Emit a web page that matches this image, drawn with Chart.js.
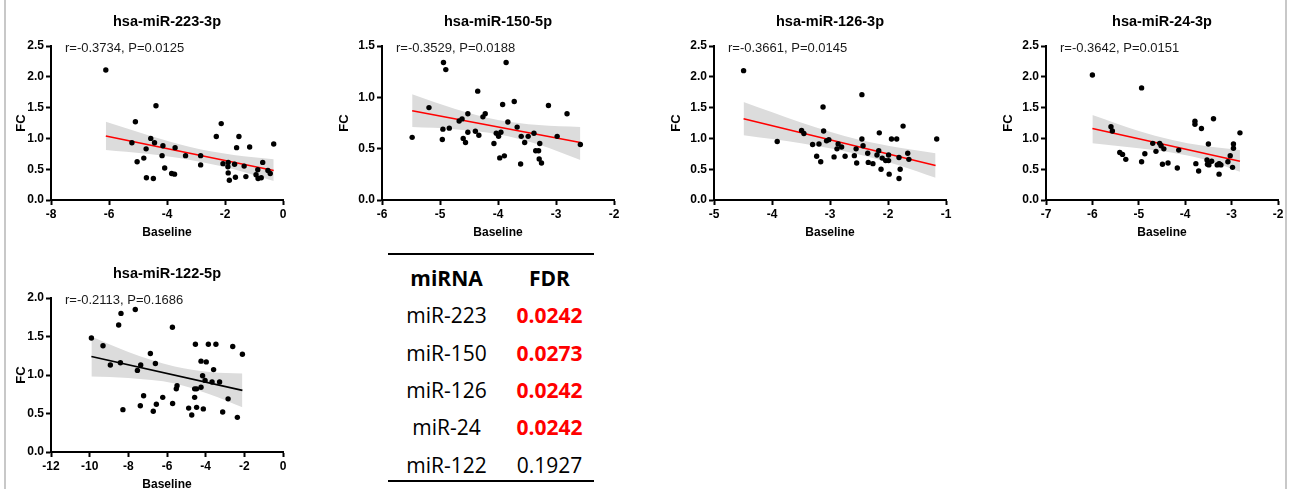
<!DOCTYPE html>
<html>
<head>
<meta charset="utf-8">
<script src="https://cdn.jsdelivr.net/npm/chart.js@4.4.0/dist/chart.umd.min.js"></script>
<style>
html, body { margin: 0; padding: 0; background: #fff; overflow: hidden; }
body { width: 1289px; height: 489px; position: relative; }
canvas { position: absolute; }
.edge { position: absolute; top: 0; height: 489px; width: 2px; background: #c8c8c8; z-index: 5; }
.rule { position: absolute; left: 388px; width: 206px; height: 2px; background: #000; }
.trow { position: absolute; left: 388px; width: 206px; height: 37px; line-height: 37px;
        font-family: "Open Sans", "Noto Sans", sans-serif; font-size: 21px; color: #000; white-space: nowrap; }
.trow span { display: inline-block; text-align: center; }
.c1 { width: 117px; }
.c2 { width: 89px; }
.bold { font-weight: bold; }
.sig { color: #ff0000; font-weight: bold; }
</style>
</head>
<body>
<div class="edge" style="left:4px"></div>
<div class="edge" style="left:1285px"></div>
<div id="table"></div>
<script>
// panel labels
const panelTitles = ["hsa-miR-223-3p", "hsa-miR-150-5p", "hsa-miR-126-3p", "hsa-miR-24-3p", "hsa-miR-122-5p"];
const panelStats = ["r=-0.3734, P=0.0125", "r=-0.3529, P=0.0188", "r=-0.3661, P=0.0145", "r=-0.3642, P=0.0151", "r=-0.2113, P=0.1686"];

// axis ranges: [min, max, step]
const xRanges = [[-8, 0, 2], [-6, -2, 1], [-5, -1, 1], [-7, -2, 1], [-12, 0, 2]];
const yRanges = [[0, 2.5, 0.5], [0, 1.5, 0.5], [0, 2.5, 0.5], [0, 2.5, 0.5], [0, 2.0, 0.5]];

// miR-223
const x223 = [-6.11,-5.09,-4.38,-5.21,-4.56,-4.43,-4.72,-4.14,-3.72,-5.03,-4.80,-4.17,-4.08,-4.71,-4.47,-3.84,-3.74,-3.36,-2.84,-2.84,-2.30,-2.13,-2.07,-1.89,-1.90,-1.89,-1.85,-1.67,-1.64,-1.60,-1.52,-1.34,-1.28,-1.15,-0.93,-0.87,-0.86,-0.75,-0.70,-0.52,-0.44,-0.32];
const y223 = [2.11,1.27,1.53,0.93,1.00,0.93,0.83,0.88,0.85,0.62,0.68,0.72,0.52,0.36,0.35,0.43,0.42,0.72,0.72,0.57,1.03,1.24,0.59,0.61,0.54,0.44,0.32,0.58,0.37,0.85,1.03,0.55,0.38,0.86,0.41,0.49,0.35,0.36,0.61,0.48,0.43,0.91];
const fitX223 = [-6.11, -0.32];
const fitY223 = [1.04, 0.48];
const bandX223 = [-6.11, -4.7, -3.2, -1.7, -0.32];
const bandHi223 = [1.27, 1.06, 0.86, 0.73, 0.66];
const bandLo223 = [0.81, 0.75, 0.65, 0.50, 0.31];

// miR-150
const x150 = [-5.48,-5.19,-4.96,-4.95,-4.94,-4.90,-4.84,-4.67,-4.62,-4.60,-4.56,-4.52,-4.52,-4.39,-4.35,-4.33,-4.26,-4.22,-4.07,-4.03,-3.99,-3.97,-3.95,-3.92,-3.89,-3.86,-3.83,-3.72,-3.67,-3.60,-3.61,-3.54,-3.48,-3.38,-3.35,-3.30,-3.29,-3.28,-3.25,-3.13,-2.98,-2.81,-2.58];
const y150 = [0.61,0.90,0.59,0.69,1.34,1.27,0.70,0.77,0.79,0.60,0.56,0.84,0.66,0.67,1.06,0.63,0.81,0.84,0.55,0.65,0.62,0.41,0.66,0.93,0.43,1.34,0.76,0.96,0.71,0.62,0.35,0.56,0.62,0.65,0.48,0.48,0.40,0.55,0.36,0.92,0.62,0.84,0.54];
const fitX150 = [-5.48, -2.58];
const fitY150 = [0.87, 0.56];
const bandX150 = [-5.48, -4.75, -4.0, -3.3, -2.58];
const bandHi150 = [1.03, 0.89, 0.78, 0.73, 0.71];
const bandLo150 = [0.71, 0.69, 0.64, 0.54, 0.39];

// miR-126
const x126 = [-4.49,-3.91,-3.49,-3.45,-3.30,-3.23,-3.19,-3.16,-3.12,-3.11,-3.06,-3.02,-2.93,-2.88,-2.86,-2.80,-2.74,-2.58,-2.55,-2.54,-2.45,-2.43,-2.45,-2.35,-2.34,-2.26,-2.19,-2.16,-2.15,-2.12,-2.10,-2.04,-1.99,-1.99,-1.98,-1.94,-1.85,-1.81,-1.81,-1.79,-1.74,-1.66,-1.64,-1.16];
const y126 = [2.10,0.95,1.13,1.08,0.90,0.71,0.91,0.62,1.51,1.12,0.96,0.98,0.70,0.83,0.91,0.86,0.71,0.72,0.83,0.60,1.71,0.88,0.99,0.76,0.61,0.59,0.73,0.80,1.09,0.50,0.68,0.64,0.64,0.73,0.42,0.99,0.99,0.69,0.35,0.50,1.20,0.76,0.66,0.99];
const fitX126 = [-4.49, -1.18];
const fitY126 = [1.32, 0.56];
const bandX126 = [-4.49, -3.5, -2.5, -1.8, -1.18];
const bandHi126 = [1.59, 1.26, 0.98, 0.85, 0.76];
const bandLo126 = [1.05, 0.92, 0.74, 0.56, 0.36];

// miR-24
const x24 = [-6.00,-5.60,-5.57,-5.41,-5.35,-5.28,-4.94,-4.87,-4.94,-4.70,-4.55,-4.52,-4.46,-4.63,-4.49,-4.37,-4.17,-4.14,-3.79,-3.79,-3.65,-3.39,-3.50,-3.77,-3.71,-3.53,-3.43,-3.52,-3.49,-3.27,-3.26,-3.31,-3.23,-3.27,-3.08,-3.03,-2.98,-2.96,-2.96,-2.82];
const y24 = [2.03,1.19,1.12,0.77,0.74,0.66,0.62,0.75,1.82,0.92,0.92,0.88,0.83,0.79,0.58,0.60,0.52,0.81,1.28,1.23,1.16,1.32,0.91,0.59,0.47,0.65,0.63,0.58,0.57,0.59,0.58,0.57,0.57,0.42,0.62,0.72,0.53,0.91,0.84,1.09];
const fitX24 = [-6.0, -2.82];
const fitY24 = [1.16, 0.63];
const bandX24 = [-6.0, -5.0, -4.3, -3.6, -2.82];
const bandHi24 = [1.38, 1.12, 0.98, 0.88, 0.81];
const bandLo24 = [0.92, 0.84, 0.77, 0.66, 0.46];

// miR-122
const x122 = [-9.91,-9.31,-8.93,-8.50,-8.41,-8.38,-8.28,-7.64,-7.53,-7.36,-7.38,-7.21,-6.86,-6.71,-6.60,-6.55,-6.22,-5.72,-5.71,-5.52,-5.48,-4.88,-4.72,-4.57,-4.57,-4.53,-4.47,-4.47,-4.24,-4.24,-4.16,-4.12,-4.03,-3.97,-3.86,-3.67,-3.59,-3.47,-3.28,-3.12,-2.84,-2.60,-2.36,-2.10];
const y122 = [1.48,1.38,1.13,1.65,1.16,1.80,0.55,1.85,1.06,1.13,0.60,0.73,1.28,0.53,1.15,0.62,0.71,1.62,0.63,0.82,0.86,0.57,0.48,0.82,0.71,1.40,0.82,0.58,1.18,0.84,0.99,0.56,0.93,1.17,1.40,0.91,1.07,1.40,0.91,0.52,0.69,1.37,0.45,1.27];
const fitX122 = [-9.91, -2.10];
const fitY122 = [1.24, 0.80];
const bandX122 = [-9.91, -8.0, -5.6, -3.8, -2.10];
const bandHi122 = [1.50, 1.30, 1.11, 1.04, 1.02];
const bandLo122 = [0.98, 0.96, 0.89, 0.75, 0.58];

// FDR table
const tableHead = ["miRNA", "FDR"];
const tableMirna = ["miR-223", "miR-150", "miR-126", "miR-24", "miR-122"];
const tableFdr = ["0.0242", "0.0273", "0.0242", "0.0242", "0.1927"];
const tableSig = [true, true, true, true, false];

const xsList = [x223, x150, x126, x24, x122];
const ysList = [y223, y150, y126, y24, y122];
const fitXList = [fitX223, fitX150, fitX126, fitX24, fitX122];
const fitYList = [fitY223, fitY150, fitY126, fitY24, fitY122];
const bandXList = [bandX223, bandX150, bandX126, bandX24, bandX122];
const bandHiList = [bandHi223, bandHi150, bandHi126, bandHi24, bandHi122];
const bandLoList = [bandLo223, bandLo150, bandLo126, bandLo24, bandLo122];

// layout / style
const canvasPos = [[0, 0], [331, 0], [663, 0], [995, 0], [0, 252]];
const fcPad = [14, 5.7, 5.7, 5.7, 14];
const fitColors = ["#ff0000", "#ff0000", "#ff0000", "#ff0000", "#000000"];

const FONT = '"Liberation Sans", Arial, Helvetica, sans-serif';
Chart.defaults.font.family = FONT;
Chart.defaults.color = "#000";

function zip(xs, ys) {
  return xs.map((x, i) => ({ x: x, y: ys[i] }));
}

const panelText = {
  id: "panelText",
  afterDraw(chart, args, opts) {
    const ctx = chart.ctx;
    const a = chart.chartArea;
    ctx.save();
    ctx.fillStyle = "#000";
    ctx.textBaseline = "middle";
    ctx.textAlign = "center";
    ctx.font = "bold 14.5px " + FONT;
    ctx.fillText(opts.title, (a.left + a.right) / 2, a.top - 24);
    ctx.textAlign = "left";
    ctx.font = "13px " + FONT;
    ctx.fillStyle = "#1a1a1a";
    ctx.fillText(opts.stat, a.left + 14, a.top + 2);
    ctx.restore();
  }
};

for (let i = 0; i < 5; i++) {
  const cv = document.createElement("canvas");
  cv.width = 301;
  cv.height = 240;
  cv.style.left = canvasPos[i][0] + "px";
  cv.style.top = canvasPos[i][1] + "px";
  document.body.appendChild(cv);

  new Chart(cv.getContext("2d"), {
    type: "scatter",
    data: {
      datasets: [
        {
          type: "line",
          data: zip(bandXList[i], bandLoList[i]),
          borderColor: "rgba(0,0,0,0)",
          borderWidth: 0,
          pointRadius: 0,
          fill: false,
          cubicInterpolationMode: "monotone",
          order: 3
        },
        {
          type: "line",
          data: zip(bandXList[i], bandHiList[i]),
          borderColor: "rgba(0,0,0,0)",
          borderWidth: 0,
          pointRadius: 0,
          fill: "-1",
          backgroundColor: "#dcdcdc",
          cubicInterpolationMode: "monotone",
          order: 3
        },
        {
          type: "line",
          data: zip(fitXList[i], fitYList[i]),
          borderColor: fitColors[i],
          borderWidth: 1.6,
          pointRadius: 0,
          fill: false,
          order: 2
        },
        {
          type: "scatter",
          data: zip(xsList[i], ysList[i]),
          backgroundColor: "#000",
          borderWidth: 0,
          pointRadius: 2.7,
          order: 1
        }
      ]
    },
    options: {
      responsive: false,
      animation: false,
      layout: { padding: { left: 0, top: 46, right: 18, bottom: 0 } },
      plugins: {
        legend: { display: false },
        tooltip: { enabled: false },
        panelText: { title: panelTitles[i], stat: panelStats[i] }
      },
      scales: {
        x: {
          type: "linear",
          min: xRanges[i][0],
          max: xRanges[i][1],
          afterFit(scale) { scale.height = 40; },
          grid: { drawOnChartArea: false, drawTicks: true, tickLength: 5, tickWidth: 2, tickColor: "#000" },
          border: { display: true, color: "#000", width: 2 },
          ticks: {
            stepSize: xRanges[i][2],
            padding: 2,
            maxRotation: 0,
            autoSkip: false,
            color: "#000",
            font: { size: 12, weight: "bold" },
            callback: (v) => String(v)
          },
          title: {
            display: true,
            text: "Baseline",
            color: "#000",
            font: { size: 12, weight: "bold" },
            padding: { top: 0, bottom: 0 }
          }
        },
        y: {
          type: "linear",
          min: yRanges[i][0],
          max: yRanges[i][1],
          afterFit(scale) { scale.width = 51; },
          grid: { drawOnChartArea: false, drawTicks: true, tickLength: 5, tickWidth: 2, tickColor: "#000" },
          border: { display: true, color: "#000", width: 2 },
          ticks: {
            stepSize: yRanges[i][2],
            padding: 2,
            color: "#000",
            font: { size: 12, weight: "bold" },
            callback: (v) => Number(v).toFixed(1)
          },
          title: {
            display: true,
            text: "FC",
            color: "#000",
            font: { size: 13, weight: "bold" },
            padding: { top: fcPad[i], bottom: 0 }
          }
        }
      }
    },
    plugins: [panelText]
  });
}

// table
const tbl = document.getElementById("table");
function addRule(top) {
  const r = document.createElement("div");
  r.className = "rule";
  r.style.top = top + "px";
  tbl.appendChild(r);
}
function addRow(top, a, b, cls1, cls2) {
  const row = document.createElement("div");
  row.className = "trow";
  row.style.top = top + "px";
  const s1 = document.createElement("span");
  s1.className = "c1 " + cls1;
  s1.textContent = a;
  const s2 = document.createElement("span");
  s2.className = "c2 " + cls2;
  s2.textContent = b;
  row.appendChild(s1);
  row.appendChild(s2);
  tbl.appendChild(row);
}
addRule(253);
addRow(260, tableHead[0], tableHead[1], "bold", "bold");
tableMirna.forEach((m, i) => {
  addRow(260 + (i + 1) * 37.3, m, tableFdr[i], "", tableSig[i] ? "sig" : "");
});
addRule(480);
</script>
</body>
</html>
